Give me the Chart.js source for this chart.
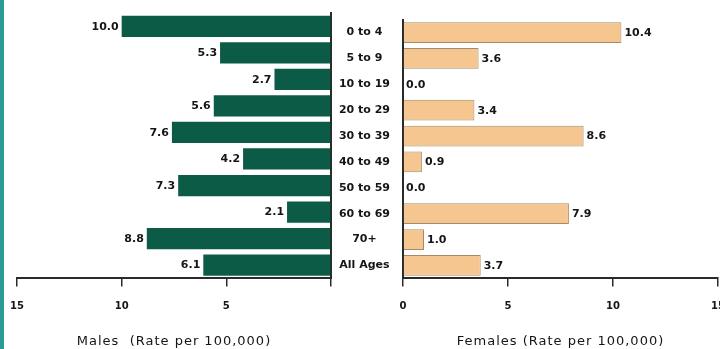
<!DOCTYPE html>
<html><head><meta charset="utf-8">
<script src="https://cdn.jsdelivr.net/npm/chart.js@4.4.1/dist/chart.umd.min.js"></script>
<style>
html,body{margin:0;padding:0;background:#fff;width:720px;height:349px;overflow:hidden;position:relative}
#strip{position:absolute;left:0;top:0;width:4px;height:349px;background:#2b9b95;z-index:2}
#cm{position:absolute;left:0;top:0;width:345px;height:349px}
#cf{position:absolute;left:327px;top:0;width:403px;height:349px}
</style></head><body>
<div id="strip"></div>
<canvas id="cm" width="345" height="349"></canvas>
<canvas id="cf" width="403" height="349"></canvas>
<script>
const categories = ['0 to 4','5 to 9','10 to 19','20 to 29','30 to 39','40 to 49','50 to 59','60 to 69','70+','All Ages'];
const maleRates = [10.0, 5.3, 2.7, 5.6, 7.6, 4.2, 7.3, 2.1, 8.8, 6.1];
const femaleRates = [10.4, 3.6, 0.0, 3.4, 8.6, 0.9, 0.0, 7.9, 1.0, 3.7];
const xTicks = [0, 5, 10, 15];
const maleTitle = 'Males  (Rate per 100,000)';
const femaleTitle = 'Females (Rate per 100,000)';

const FONT = "'DejaVu Sans', sans-serif";
const AXIS = '#2a2a2a';
const TEXT = '#151515';

const valueLabels = {
  id: 'valueLabels',
  afterDatasetsDraw(chart, args, opts) {
    const ctx = chart.ctx;
    const meta = chart.getDatasetMeta(0);
    const data = chart.data.datasets[0].data;
    ctx.save();
    ctx.letterSpacing = '0px';
    ctx.font = 'bold 11px ' + FONT;
    ctx.fillStyle = TEXT;
    ctx.textBaseline = 'middle';
    ctx.textAlign = opts.side === 'left' ? 'right' : 'left';
    meta.data.forEach((bar, i) => {
      const x = bar.x + (opts.side === 'left' ? -3 : 3);
      ctx.fillText(data[i].toFixed(1), x, bar.y + 0.5);
    });
    ctx.restore();
  }
};

const spacing = {
  id: 'spacing',
  beforeDraw(chart) { chart.ctx.letterSpacing = '1px'; },
  beforeDatasetsDraw(chart) { chart.ctx.letterSpacing = '0px'; }
};

function xAxis(reverse, title, hideZero) {
  return {
    type: 'linear', reverse: reverse, min: 0, max: 15,
    afterBuildTicks: s => { s.ticks = xTicks.map(v => ({ value: v })); },
    afterFit: s => { s.paddingLeft = 0; s.paddingRight = 0; },
    ticks: {
      callback: v => (hideZero && v === 0) ? '' : String(v),
      font: { family: FONT, size: 10, weight: 'bold' }, color: TEXT,
      padding: 14, z: 1, maxRotation: 0, autoSkip: false
    },
    grid: { display: true, drawOnChartArea: false, drawTicks: true, tickLength: 8, color: AXIS, lineWidth: 1.5 },
    border: { display: true, color: AXIS, width: 2 },
    title: { display: true, text: title, font: { family: FONT, size: 13 }, color: TEXT, padding: { top: 7, bottom: 0 } }
  };
}

const common = {
  indexAxis: 'y', responsive: false, maintainAspectRatio: false, animation: false,
  devicePixelRatio: 1, events: []
};

new Chart(document.getElementById('cm'), {
  type: 'bar',
  data: { labels: categories, datasets: [{ data: maleRates, backgroundColor: '#0c5b47', borderWidth: 0, barPercentage: 0.8, categoryPercentage: 1.0 }] },
  options: Object.assign({}, common, {
    layout: { padding: { left: 17, right: 14, top: 13, bottom: 0 } },
    plugins: { legend: { display: false }, tooltip: { enabled: false }, valueLabels: { side: 'left' } },
    scales: {
      x: xAxis(true, maleTitle, true),
      y: { position: 'right', ticks: { display: false }, grid: { display: false, drawTicks: false }, border: { display: true, color: AXIS, width: 2 }, afterFit: s => { s.width = 0; } }
    }
  }),
  plugins: [valueLabels, spacing]
});

new Chart(document.getElementById('cf'), {
  type: 'bar',
  data: { labels: categories, datasets: [{ data: femaleRates, backgroundColor: '#f5c68f', borderColor: '#a68a68', borderWidth: 1, barPercentage: 0.8, categoryPercentage: 1.0 }] },
  options: Object.assign({}, common, {
    layout: { padding: { left: 0, right: 12, top: 13, bottom: 0 } },
    plugins: { legend: { display: false }, tooltip: { enabled: false }, valueLabels: { side: 'right' } },
    scales: {
      x: xAxis(false, femaleTitle, false),
      y: {
        position: 'left',
        ticks: { font: { family: FONT, size: 11, weight: 'bold' }, color: TEXT, crossAlign: 'center', padding: 13, z: 1, autoSkip: false },
        grid: { display: false, drawTicks: false },
        border: { display: true, color: AXIS, width: 2 },
        afterFit: s => { s.width = 76; }
      }
    }
  }),
  plugins: [valueLabels, spacing]
});
</script>
</body></html>
